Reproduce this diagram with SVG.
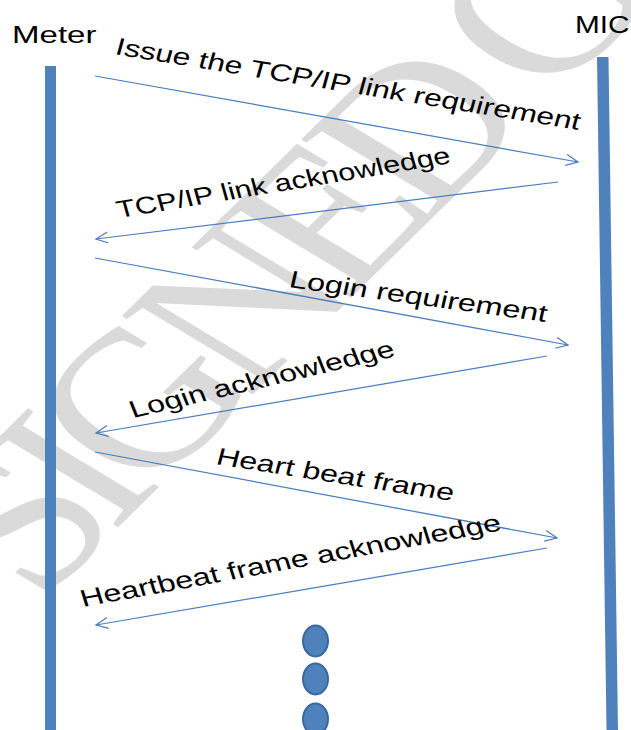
<svg xmlns="http://www.w3.org/2000/svg" width="631" height="730" viewBox="0 0 631 730">
<defs>
<style>
.lbl{font-family:"Liberation Sans",Arial,sans-serif;font-size:24px;fill:#000}
.wm{font-family:"Liberation Serif","Times New Roman",serif;font-size:195px;letter-spacing:-18px;fill:#dadada}
.bar{fill:#4f81bd}
.msg{stroke:#4a7ebb;stroke-width:1.25;fill:none}
.dot{fill:#4f81bd;stroke:#3a679c;stroke-width:2}
</style>
<marker id="open" markerUnits="userSpaceOnUse" markerWidth="16" markerHeight="14" refX="13" refY="7" orient="auto">
<path d="M1,1.5 L13,7 L1,12.5" fill="none" stroke="#4a7ebb" stroke-width="1.25"/>
</marker>
</defs>
<rect width="631" height="730" fill="#fff"/>
<g id="watermark">
<text class="wm" transform="translate(40,604) scale(1.3,1) rotate(-52)">SIGNED C</text>
</g>
<g id="meter">
<rect class="bar" x="45" y="66" width="11" height="664"/>
<text class="lbl" transform="translate(12,43) scale(1.3,1)" textLength="65" lengthAdjust="spacingAndGlyphs">Meter</text>
</g>
<g id="mic">
<polygon class="bar" points="597,57 608.5,57 618,730 606.5,730"/>
<text class="lbl" transform="translate(575,33) scale(1.3,1)" textLength="42" lengthAdjust="spacingAndGlyphs">MIC</text>
</g>
<g id="connectors">
<line class="msg" x1="95" y1="76" x2="578" y2="162" marker-end="url(#open)"/>
<line class="msg" x1="558" y1="182" x2="96" y2="239" marker-end="url(#open)"/>
<line class="msg" x1="95" y1="258" x2="568" y2="345" marker-end="url(#open)"/>
<line class="msg" x1="547" y1="356" x2="96" y2="433" marker-end="url(#open)"/>
<line class="msg" x1="95" y1="452" x2="557" y2="538" marker-end="url(#open)"/>
<line class="msg" x1="547" y1="548" x2="96" y2="625" marker-end="url(#open)"/>
</g>
<g id="labels">
<text class="lbl" transform="translate(114,54) scale(1.3,1) rotate(12)" textLength="365" lengthAdjust="spacingAndGlyphs">Issue the TCP/IP link requirement</text>
<text class="lbl" transform="translate(119,218) scale(1.3,1) rotate(-12.1)" textLength="262" lengthAdjust="spacingAndGlyphs">TCP/IP link acknowledge</text>
<text class="lbl" transform="translate(288,287) scale(1.3,1) rotate(10)" textLength="201" lengthAdjust="spacingAndGlyphs">Login requirement</text>
<text class="lbl" transform="translate(133,418) scale(1.3,1) rotate(-17)" textLength="212" lengthAdjust="spacingAndGlyphs">Login acknowledge</text>
<text class="lbl" transform="translate(215,464) scale(1.3,1) rotate(11.5)" textLength="186" lengthAdjust="spacingAndGlyphs">Heart beat frame</text>
<text class="lbl" transform="translate(83,607) scale(1.3,1) rotate(-13.4)" textLength="332" lengthAdjust="spacingAndGlyphs">Heartbeat frame acknowledge</text>
</g>
<g id="continuation">
<ellipse class="dot" cx="315.5" cy="641" rx="12.5" ry="15.5"/>
<ellipse class="dot" cx="315.5" cy="679" rx="12.5" ry="15.5"/>
<ellipse class="dot" cx="315.5" cy="719" rx="12.5" ry="15.5"/>
</g>
</svg>
